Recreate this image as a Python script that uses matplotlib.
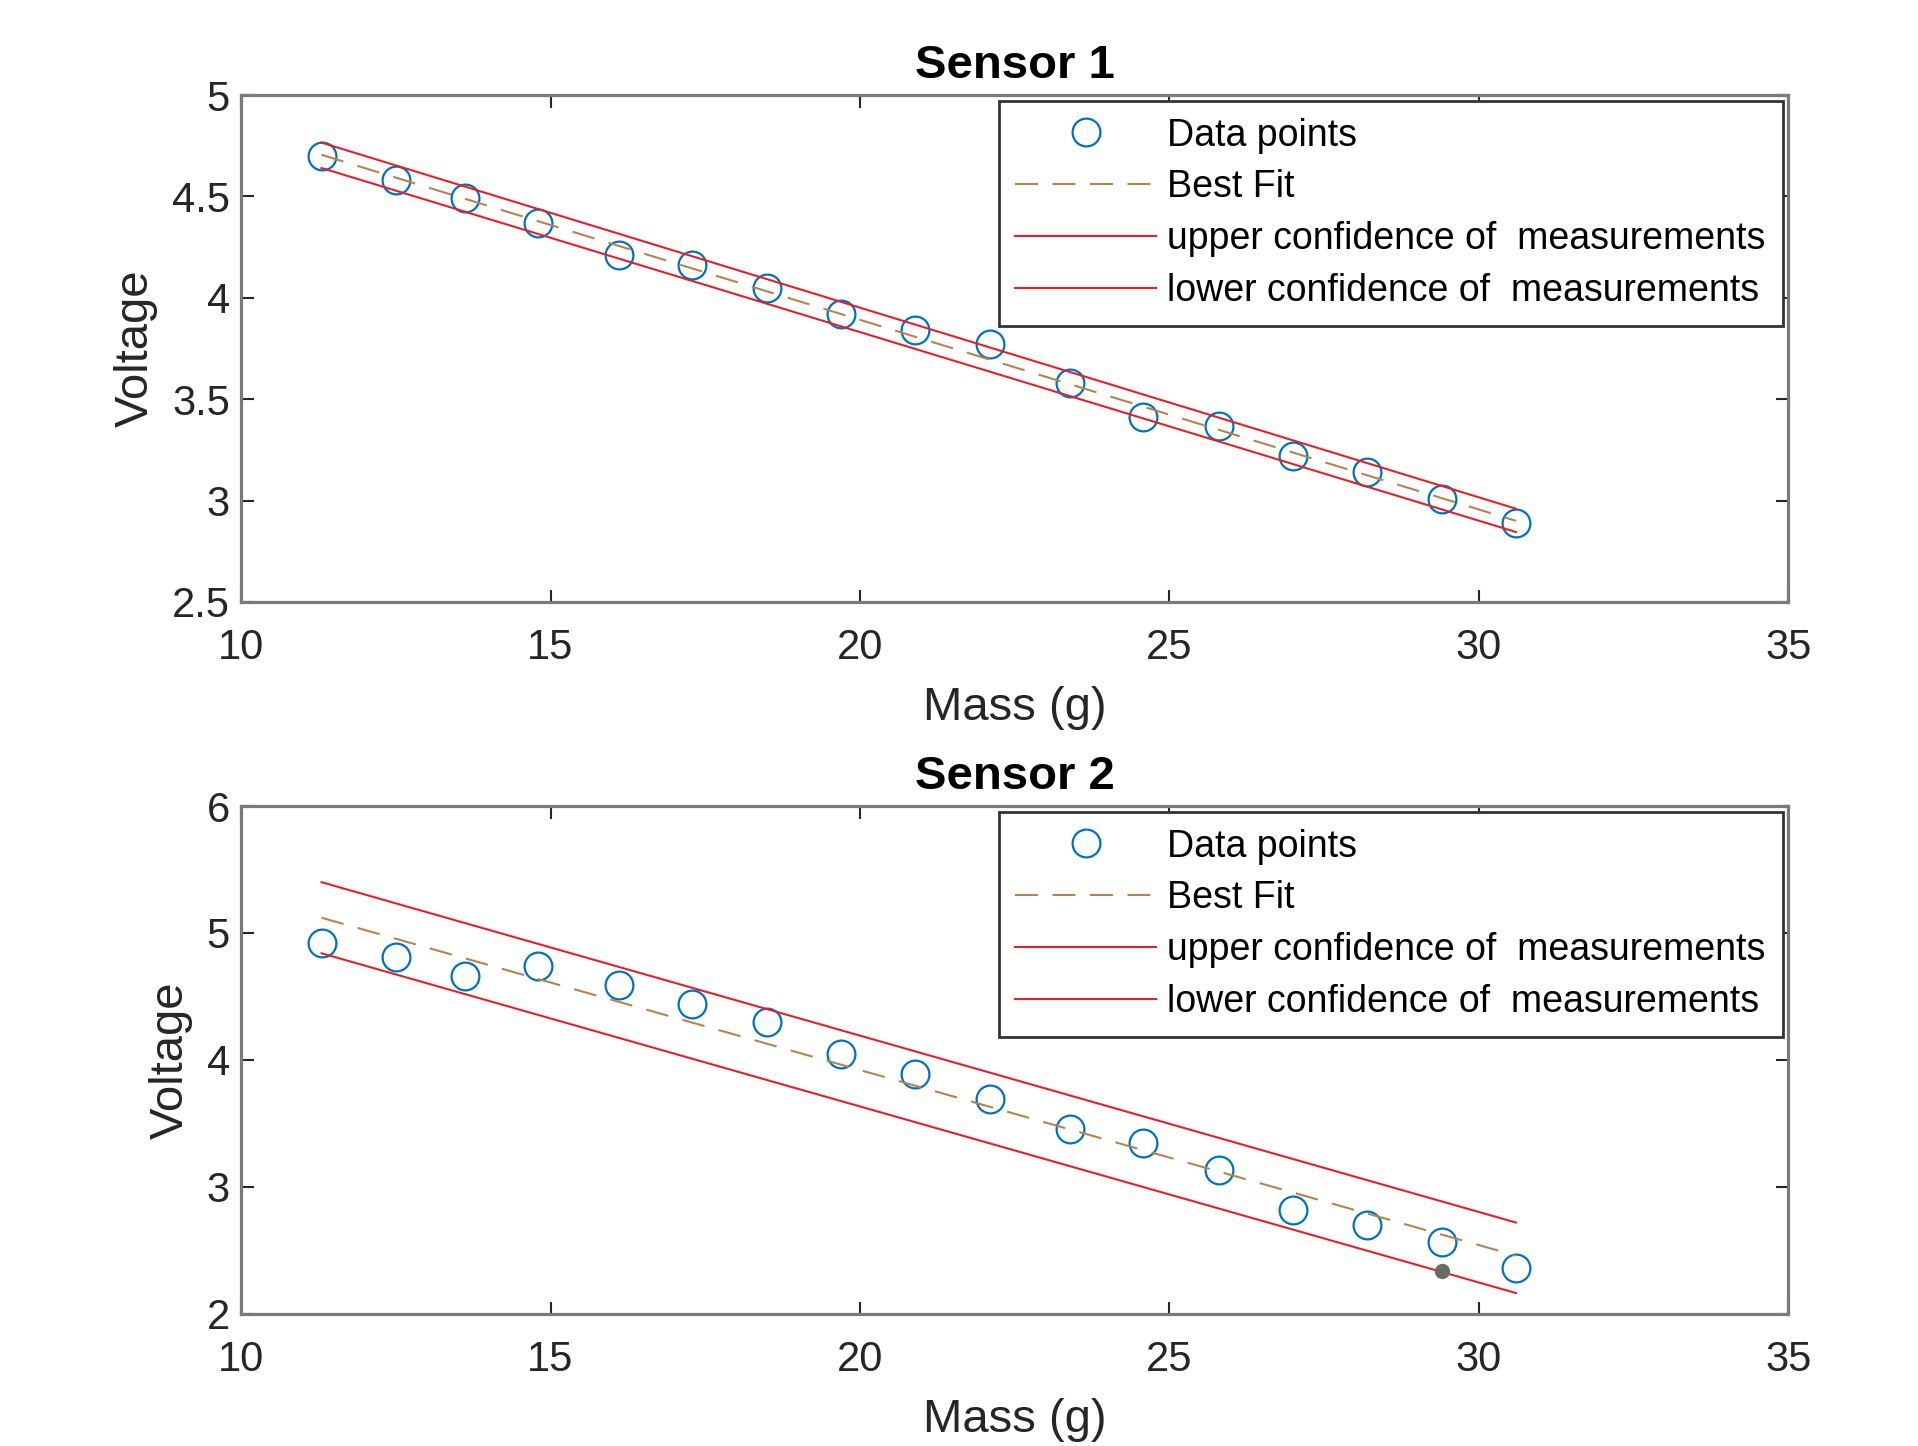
import matplotlib
matplotlib.use("Agg")
import matplotlib.pyplot as plt

# -----------------------------
# dados
# -----------------------------
mass = [11.30, 12.51, 13.62, 14.80, 16.11, 17.29, 18.50, 19.70, 20.89,
        22.11, 23.40, 24.58, 25.81, 27.00, 28.20, 29.41, 30.60]

volt_s1 = [4.70, 4.58, 4.49, 4.37, 4.21, 4.16, 4.05, 3.92, 3.84,
           3.77, 3.58, 3.41, 3.37, 3.22, 3.14, 3.01, 2.89]
volt_s2 = [4.92, 4.81, 4.66, 4.74, 4.59, 4.44, 4.30, 4.05, 3.89,
           3.69, 3.46, 3.35, 3.13, 2.82, 2.70, 2.57, 2.36]

# extremos das retas (x inicial / final)
fit_x = [11.30, 30.60]
fit_s1 = [4.705, 2.900]
upper_s1 = [4.765, 2.960]
lower_s1 = [4.640, 2.845]
fit_s2 = [5.12, 2.46]
upper_s2 = [5.40, 2.72]
lower_s2 = [4.84, 2.165]

# ponto marcado (datatip) no sensor 2
tip_x = [29.41]
tip_y = [2.34]

xticks = [10, 15, 20, 25, 30, 35]
yticks_s1 = [2.5, 3, 3.5, 4, 4.5, 5]
yticklabels_s1 = ["2.5", "3", "3.5", "4", "4.5", "5"]
yticks_s2 = [2, 3, 4, 5, 6]
yticklabels_s2 = ["2", "3", "4", "5", "6"]

legend_labels = ["Data points", "Best Fit",
                 "upper confidence of  measurements",
                 "lower confidence of  measurements"]

plt.rcParams["font.family"] = ["Liberation Sans", "DejaVu Sans"]

BLUE = "#0072BD"
FIT = "#B5834F"
RED = "#E4202C"
SPINE = "#7a7a7a"

fig = plt.figure(figsize=(19.18, 14.46), dpi=100)
ax1 = fig.add_axes([0.1257, 0.5837, 0.8066, 0.3506])
ax2 = fig.add_axes([0.1257, 0.0913, 0.8066, 0.3513])


def desenhar(ax, volt, fit, upper, lower, yticks, ylabels, ylim, titulo):
    ax.plot(mass, volt, "o", ms=20, mfc="none", mec=BLUE, mew=1.6)
    ax.plot(fit_x, fit, color=FIT, lw=1.5, ls=(0, (11, 7)))
    ax.plot(fit_x, upper, color=RED, lw=1.5)
    ax.plot(fit_x, lower, color=RED, lw=1.5)

    ax.set_xlim(10, 35)
    ax.set_ylim(*ylim)
    ax.set_xticks(xticks)
    ax.set_xticklabels([str(t) for t in xticks])
    ax.set_yticks(yticks)
    ax.set_yticklabels(ylabels)

    ax.tick_params(direction="in", length=9, width=1.5, colors="#262626",
                   labelsize=30, top=True, right=True)
    ax.tick_params(axis="x", pad=19)
    ax.tick_params(axis="y", pad=8)
    for sp in ax.spines.values():
        sp.set_color(SPINE)
        sp.set_linewidth(2.3)

    ax.set_xlabel("Mass (g)", fontsize=34, color="#262626", labelpad=13)
    ax.set_ylabel("Voltage", fontsize=34, color="#262626", labelpad=10)
    ax.set_title(titulo, fontsize=34, fontweight="bold", pad=12)

    leg = ax.legend(legend_labels, loc="upper right", bbox_to_anchor=(1.0, 1.0),
                    fontsize=27, frameon=True, fancybox=False, framealpha=1,
                    edgecolor="#333333", handlelength=3.75, handletextpad=0.3,
                    labelspacing=0.42, borderpad=0.45, borderaxespad=0.15)
    leg.get_frame().set_linewidth(2.0)


desenhar(ax1, volt_s1, fit_s1, upper_s1, lower_s1,
         yticks_s1, yticklabels_s1, (2.5, 5), "Sensor 1")
desenhar(ax2, volt_s2, fit_s2, upper_s2, lower_s2,
         yticks_s2, yticklabels_s2, (2, 6), "Sensor 2")

ax2.plot(tip_x, tip_y, "o", ms=10, color="#6a6a66", zorder=5)

fig.savefig("out.png", dpi=100)
plt.close(fig)
